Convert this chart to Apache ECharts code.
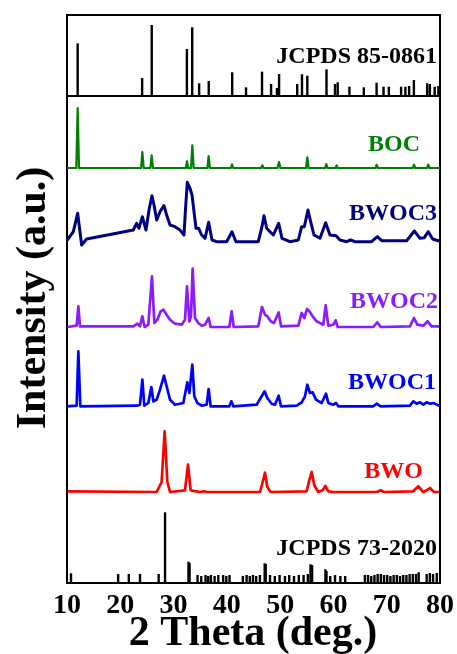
<!DOCTYPE html>
<html><head><meta charset="utf-8">
<script src="https://cdn.jsdelivr.net/npm/echarts@6/dist/echarts.min.js"></script>
<style>html,body{margin:0;padding:0;background:#fff}#c{width:457px;height:654px}</style>
</head><body><div id="c"></div>
<script>
const xTicks = [10, 20, 30, 40, 50, 60, 70, 80];
const seriesNames = ['JCPDS 85-0861', 'BOC', 'BWOC3', 'BWOC2', 'BWOC1', 'BWO', 'JCPDS 73-2020'];

// Reference stick patterns [2theta, intensity]
const ref85 = [[12.0,52.7],[24.1,18],[25.9,71],[32.5,47],[33.5,68.7],[34.8,12.7],[36.6,15],[41.0,23.7],[43.6,8.7],[46.6,24.3],[48.3,12],[49.4,8],[49.8,22],[53.2,12],[54.1,21.7],[55.1,20.3],[58.7,26.7],[60.3,12],[60.8,13.7],[63.0,9.3],[65.7,8.7],[68.1,13.3],[69.4,9.3],[70.4,9.3],[72.7,9.3],[73.5,9.3],[74.2,10],[75.1,16],[77.6,12.7],[78.1,12],[79.0,9.3],[79.7,10]];
const ref73 = [[10.75,9.7],[19.6,9],[21.6,9],[23.7,9],[27.2,9],[28.4,70.7],[32.8,21.3],[33.0,20],[34.5,8],[35.2,7],[36.0,8],[36.5,7],[37.0,8],[37.7,7],[38.4,8],[39.3,8],[39.9,7],[40.5,8],[43.0,7],[43.7,8],[44.3,7],[44.9,8],[45.5,7],[46.2,8],[47.1,19.7],[47.3,19],[48.1,8],[49.0,7],[49.9,8],[50.9,7],[51.7,8],[52.6,7],[53.5,8],[54.4,8],[55.2,9],[55.7,18.7],[56.0,18],[58.5,13.7],[58.7,12],[59.4,7],[60.3,8],[61.3,7],[62.2,7],[65.9,8],[66.5,8],[67.1,7],[67.7,8],[68.3,9],[68.9,9],[69.5,8],[70.1,8],[70.7,7],[71.3,8],[71.9,8],[72.5,7],[73.1,8],[73.7,8],[74.3,9],[74.9,9],[75.5,9],[76.0,10.7],[77.5,9],[78.1,10],[78.7,9],[79.4,10]];

// Measured patterns [2theta, intensity]
const boc = [[10.0,0],[11.75,0],[12.0,60],[12.25,0],[23.9,0],[24.14,16],[24.4,0],[25.65,0],[25.89,12.7],[26.15,0],[32.3,0],[32.52,6.7],[32.75,0],[33.28,0],[33.52,22.7],[33.78,0],[36.35,0],[36.58,12],[36.82,0],[40.75,0],[40.96,3.7],[41.2,0],[46.4,0],[46.66,2.7],[46.9,0],[49.5,0],[49.78,6],[50.05,0],[53.9,0],[54.1,2],[54.35,0],[54.85,0],[55.1,10.7],[55.35,0],[58.45,0],[58.66,4],[58.9,0],[60.4,0],[60.6,2.7],[60.8,0],[62.9,0],[63.11,2],[63.3,0],[67.9,0],[68.11,3.3],[68.35,0],[74.9,0],[75.12,3.3],[75.35,0],[77.55,0],[77.8,3.3],[78.05,0],[80,0]];
const bwoc3 = [[10.06,0],[11.19,8.3],[12.0,26.7],[12.75,-5],[13.69,1],[22.45,10],[23.07,16.7],[23.51,11.7],[24.14,23.3],[24.82,10],[25.45,31.7],[25.95,44.3],[26.33,35],[26.83,20],[27.45,28.3],[28.2,34.3],[28.7,25],[29.33,15],[30.27,13.3],[31.2,10],[31.96,5],[32.21,28.3],[32.58,57.7],[33.08,51.7],[33.46,45],[33.83,43.3],[34.21,11.7],[34.71,11.7],[35.27,5],[35.9,1.7],[36.58,17.7],[37.21,0],[38.09,-1.7],[39.96,-1.7],[40.96,8.3],[41.71,-1.7],[45.9,-1.7],[46.59,13.3],[46.97,24.3],[47.47,11.7],[48.09,8.3],[48.72,5],[49.72,16.7],[50.35,1.7],[51.85,-1.7],[53.41,0],[54.04,13.3],[54.54,13.3],[55.22,30],[55.72,18.3],[56.35,5],[57.48,1.7],[58.54,17.3],[59.35,5],[60.48,4.3],[61.23,0],[62.48,-1.7],[63.23,0],[64.04,-1.7],[67.17,-1.7],[68.23,3.3],[69.05,-0.7],[73.74,-0.7],[75.18,9],[76.24,1.7],[77.05,2.3],[77.8,8.3],[78.62,1],[79.68,-0.7],[80,-0.7]];
const bwoc2 = [[10.06,0],[11.81,1.3],[12.13,20.7],[12.44,0.7],[22.45,0.7],[23.2,3.3],[23.7,0.7],[24.14,10.7],[24.57,0],[25.26,2.3],[25.95,50.7],[26.39,4],[26.95,7.3],[27.58,15.7],[28.08,17.3],[28.7,12.3],[29.33,7.3],[30.27,3.3],[31.52,2.3],[32.14,7.3],[32.52,40.7],[32.96,5.7],[33.27,10.7],[33.58,58.3],[34.02,9],[34.64,4],[35.27,1.3],[35.9,2.3],[36.58,9],[36.96,0],[40.46,0],[40.9,15.7],[41.28,0],[45.9,0.7],[46.59,20],[47.16,12.3],[47.59,10.7],[48.22,5.7],[48.84,4],[49.72,14.7],[50.16,0.7],[53.41,1.3],[54.04,14],[54.54,9],[55.04,18],[55.47,15.7],[56.1,10.7],[56.85,5.7],[58.1,2.3],[58.54,21.7],[59.04,1.3],[59.98,2.3],[60.42,6.7],[60.79,0],[67.48,0],[68.23,4.7],[68.86,0],[74.36,0.7],[75.12,9],[75.74,2.3],[76.87,1.3],[77.68,5.7],[78.43,0.7],[79.87,0.7],[80,0.7]];
const bwoc1 = [[10.06,0.7],[11.81,1.3],[12.13,55.7],[12.5,0.7],[23.07,1.3],[23.7,2.3],[24.14,27.3],[24.51,1.3],[25.26,4],[25.83,20],[26.2,5.7],[26.83,7.3],[27.45,17.3],[28.2,31.3],[28.7,20.7],[29.33,7.3],[30.27,2.3],[31.83,4],[32.58,24.7],[32.96,14],[33.52,42.3],[33.89,10.7],[34.46,4],[35.27,1.3],[36.21,2.3],[36.58,18],[36.96,0.7],[40.46,0.7],[40.84,5.7],[41.21,0.7],[45.59,2.3],[46.53,10.7],[47.09,15.7],[47.59,9],[48.41,3.3],[49.03,2.3],[49.72,11.3],[50.16,0.7],[53.1,1.3],[54.04,4.7],[54.66,10.7],[55.1,22.3],[55.6,14],[56.1,14.7],[56.73,7.3],[57.79,4],[58.6,13.3],[59.04,4],[59.98,2.3],[60.48,4],[60.92,0.7],[67.48,0.7],[68.11,3.3],[68.86,0.7],[74.36,1.3],[74.99,5.7],[75.62,3.3],[76.24,4.7],[76.87,2.3],[77.49,4.7],[78.12,3.3],[78.74,4],[79.87,1.3],[80,1.3]];
const bwo = [[10.06,0.7],[26.83,0],[27.76,10],[28.33,60.7],[28.83,10],[29.33,0],[32.14,1.7],[32.71,27.3],[33.21,1.7],[34.96,0],[35.71,0.7],[36.21,0],[46.22,0],[46.72,10],[47.16,19.3],[47.59,5],[48.22,0],[54.97,0.7],[55.47,11.7],[55.91,20],[56.41,6.7],[57.16,0],[57.98,1.7],[58.48,6],[59.04,0.7],[59.98,0],[68.11,0],[68.86,1.7],[69.49,0],[74.99,0.7],[75.93,5.7],[76.87,0],[77.49,1.7],[78.12,4],[78.87,0],[79.87,0],[80,0]];

// vertical stacking offsets (layout)
const offsets = { BOC: 415, BWOC3: 343, BWOC2: 256, BWOC1: 176, BWO: 91 };
const colors = { BOC: '#008000', BWOC3: '#000080', BWOC2: '#8a1cff', BWOC1: '#0000ff', BWO: '#ff0000' };
const widths = { BOC: 2.2, BWOC3: 3, BWOC2: 2.7, BWOC1: 2.7, BWO: 2.7 };

const FF = '"Liberation Serif","Times New Roman",serif';
const shift = (arr, o) => arr.map(p => [p[0], p[1] + o]);
const lineSeries = (name, arr) => ({
  name, type: 'line', xAxisIndex: 1, yAxisIndex: 1, showSymbol: false, symbol: 'none',
  data: shift(arr, offsets[name]), lineStyle: { color: colors[name], width: widths[name], join: 'round' },
  itemStyle: { color: colors[name] }, z: 3
});

const labelText = (text, right, cy, color) => ({
  type: 'text', x: right, y: cy,
  style: { text, fill: color, font: 'bold 24px ' + FF, textAlign: 'right', textVerticalAlign: 'middle' }
});

const chart = echarts.init(document.getElementById('c'), null, { renderer: 'canvas' });
chart.setOption({
  animation: false,
  backgroundColor: '#fff',
  grid: [
    { left: 67, right: 17, top: 15, height: 81, show: true, borderColor: '#000', borderWidth: 2, backgroundColor: 'transparent' },
    { left: 67, right: 17, top: 96, height: 487, show: true, borderColor: '#000', borderWidth: 2, backgroundColor: 'transparent' }
  ],
  xAxis: [
    { gridIndex: 0, type: 'value', min: 10, max: 80, interval: 10, axisLine: { show: false }, axisTick: { show: false }, axisLabel: { show: false }, splitLine: { show: false } },
    { gridIndex: 1, type: 'value', min: 10, max: 80, interval: 10, axisLine: { show: false }, axisTick: { show: false }, splitLine: { show: false },
      axisLabel: { show: true, color: '#000', fontFamily: FF, fontWeight: 'bold', fontSize: 28, margin: 9,
        formatter: v => xTicks.includes(v) ? String(v) : '' } }
  ],
  yAxis: [
    { gridIndex: 0, type: 'value', min: 0, max: 81, show: false },
    { gridIndex: 1, type: 'value', min: 0, max: 487, show: false }
  ],
  series: [
    { name: seriesNames[0], type: 'bar', xAxisIndex: 0, yAxisIndex: 0, data: ref85, barWidth: 2.4, itemStyle: { color: '#000' } },
    lineSeries('BOC', boc),
    lineSeries('BWOC3', bwoc3),
    lineSeries('BWOC2', bwoc2),
    lineSeries('BWOC1', bwoc1),
    lineSeries('BWO', bwo),
    { name: seriesNames[6], type: 'bar', xAxisIndex: 1, yAxisIndex: 1, data: ref73, barWidth: 2.4, itemStyle: { color: '#000' } }
  ],
  graphic: [
    labelText('JCPDS 85-0861', 437, 57, '#000'),
    labelText('BOC', 420, 145, colors.BOC),
    labelText('BWOC3', 437, 214, colors.BWOC3),
    labelText('BWOC2', 438, 302, colors.BWOC2),
    labelText('BWOC1', 436, 383, colors.BWOC1),
    labelText('BWO', 423, 472, colors.BWO),
    labelText('JCPDS 73-2020', 437, 549, '#000'),
    { type: 'text', x: 253, y: 634,
      style: { text: '2 Theta (deg.)', fill: '#000', font: 'bold 42px ' + FF, textAlign: 'center', textVerticalAlign: 'middle' } },
    { type: 'text', x: 34, y: 298, rotation: Math.PI / 2,
      style: { text: 'Intensity (a.u.)', fill: '#000', font: 'bold 42px ' + FF, textAlign: 'center', textVerticalAlign: 'middle' } }
  ]
});
</script></body></html>
